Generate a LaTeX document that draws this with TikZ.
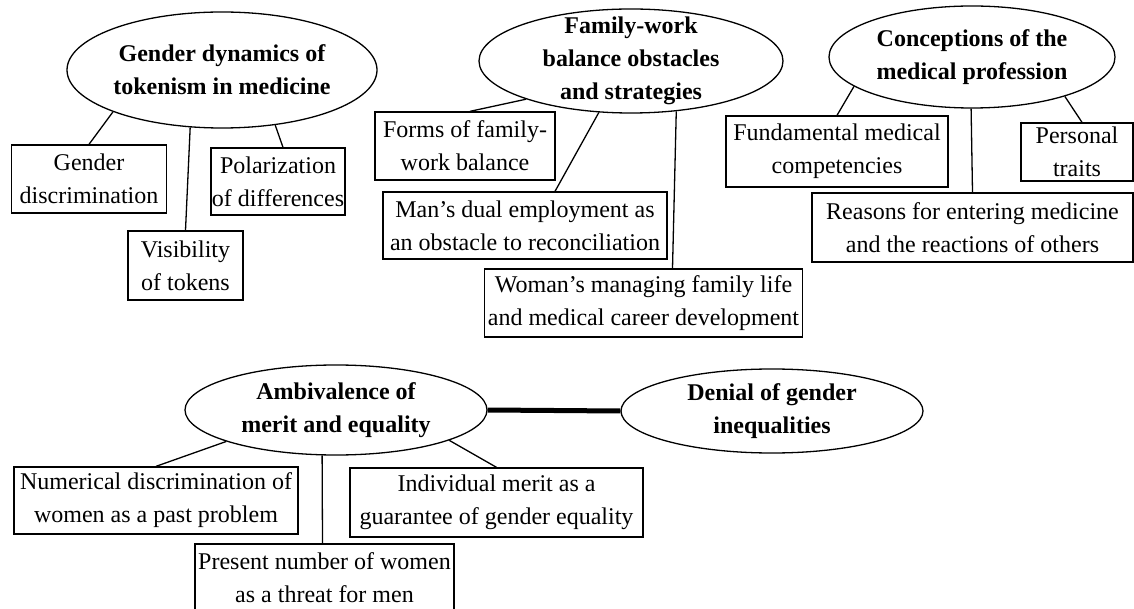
\documentclass[tikz,border=0pt]{standalone}
\usepackage{fontspec}
\setmainfont{Liberation Serif}
\usetikzlibrary{shapes.geometric}

\begin{document}
\begin{tikzpicture}[x=1pt,y=-1pt,line width=1.3pt,
    theme/.style={ellipse,draw,inner sep=0pt},
    title/.style={align=center,font=\fontsize{24pt}{33pt}\selectfont\bfseries},
    item/.style={draw,align=center,inner xsep=1pt,inner ysep=2pt,font=\fontsize{24pt}{33pt}\selectfont}]
    \useasboundingbox (0,0) rectangle (1134,609);
    \node[theme,minimum width=310pt,minimum height=116pt] (a) at (222,70) {};
    \node[title] (at) at (a) {Gender dynamics of\\tokenism in medicine};
    \node[item,minimum width=155pt,minimum height=68pt] (a1) at (89,179) {Gender\\discrimination};
    \node[item,minimum width=115pt,minimum height=69pt] (a2) at (185.5,265.5) {Visibility\\of tokens};
    \node[item,minimum width=130pt,minimum height=67pt] (a3) at (278,181.5) {Polarization\\of differences};
    \draw (a.201) -- (a1.north);
    \draw (a.241) -- (a2.north);
    \draw (a.314) -- ([xshift=5pt]a3.north);

    \node[theme,minimum width=304pt,minimum height=104pt] (b) at (631,61) {};
    \node[title] (bt) at (b) {Family-work\\balance obstacles\\and strategies};
    \node[item,minimum width=180pt,minimum height=68pt] (b1) at (465,146) {Forms of family-\\work balance};
    \node[item,minimum width=284pt,minimum height=67pt] (b2) at (525,225.5) {Man’s dual employment as\\an obstacle to reconciliation};
    \node[item,minimum width=318pt,minimum height=68pt] (b3) at (643.5,303) {Woman’s managing family life\\and medical career development};
    \draw (b.200) -- ([xshift=5pt]b1.north);
    \draw (b.238) -- ([xshift=30pt]b2.north);
    \draw (b.312) -- ([xshift=29pt]b3.north);

    \node[theme,minimum width=286pt,minimum height=102pt] (c) at (972,57) {};
    \node[title] (ct) at (c) {Conceptions of the\\medical profession};
    \node[item,minimum width=222pt,minimum height=71pt] (c1) at (837,151.5) {Fundamental medical\\competencies};
    \node[item,minimum width=112pt,minimum height=58pt] (c2) at (1077,152) {Personal\\traits};
    \node[item,minimum width=321pt,minimum height=69pt] (c3) at (972.5,227.5) {Reasons for entering medicine\\and the reactions of others};
    \draw (c.194) -- (c1.north);
    \draw (c.337) -- ([xshift=5pt]c2.north);
    \draw (c.269) -- (c3.north);

    \node[theme,minimum width=302pt,minimum height=90pt] (d) at (336,410) {};
    \node[title] (dt) at (d) {Ambivalence of\\merit and equality};
    \node[theme,minimum width=302pt,minimum height=84pt] (e) at (772,411) {};
    \node[title] (et) at (e) {Denial of gender\\inequalities};
    \node[item,minimum width=284pt,minimum height=67pt] (d1) at (156,500.5) {Numerical discrimination of\\women as a past problem};
    \node[item,minimum width=293pt,minimum height=69pt] (d2) at (496.5,502.5) {Individual merit as a\\guarantee of gender equality};
    \node[item,minimum width=259pt,minimum height=68pt] (d3) at (324.5,578) {Present number of women\\as a threat for men};
    \draw (d.196) -- (d1.north);
    \draw (d.345) -- (d2.north);
    \draw (d.253) -- ([xshift=-2pt]d3.north);
    \draw[line width=5pt] (d.east) -- (e.west);
\end{tikzpicture}
\end{document}
